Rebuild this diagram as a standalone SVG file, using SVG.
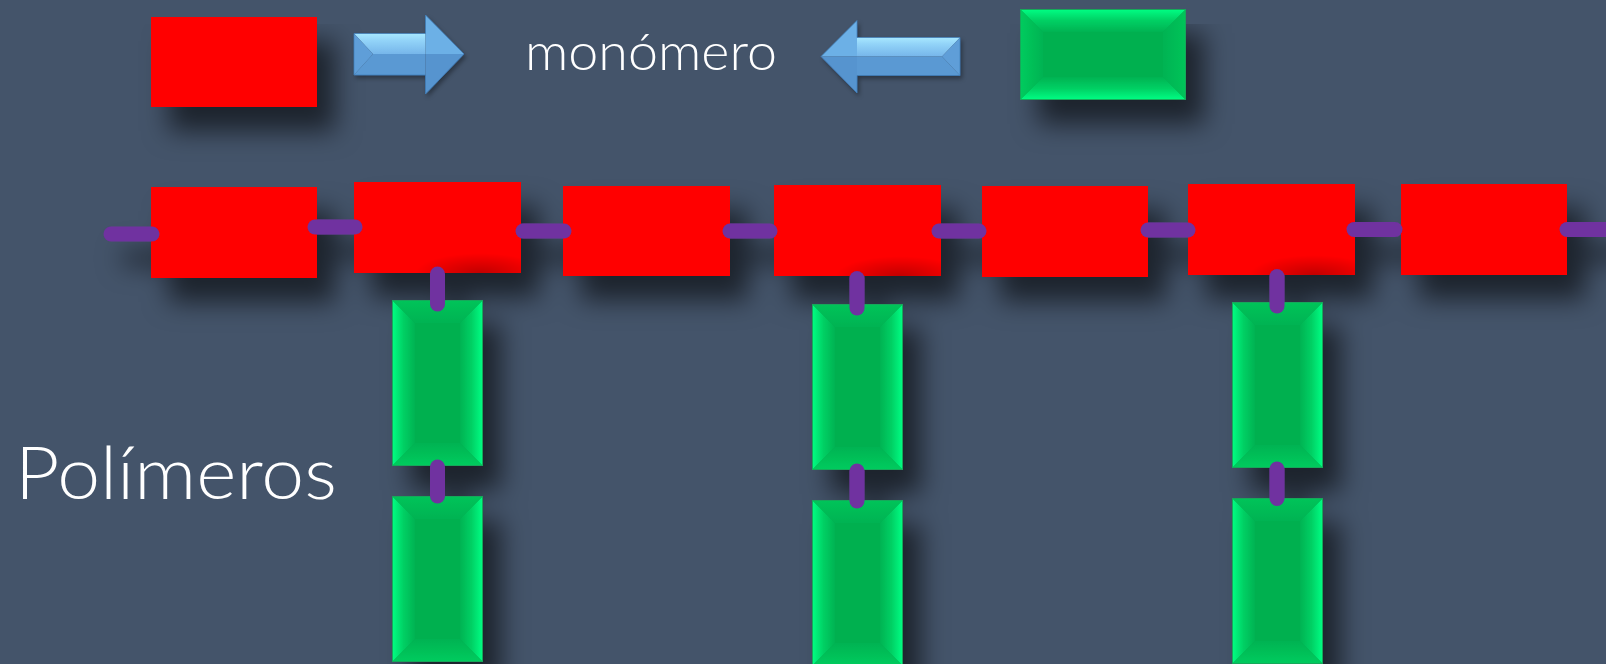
<svg xmlns="http://www.w3.org/2000/svg" xmlns:xlink="http://www.w3.org/1999/xlink" width="1606" height="664" viewBox="0 0 1606 664">
<style>
.red{fill:#FF0000}
.shade{fill:url(#redShade)}
.conn{stroke:#7030A0;stroke-width:15;stroke-linecap:round;fill:none}
.lbl{fill:#FFFFFF;font-family:Lato,"Open Sans","Liberation Sans",sans-serif;font-weight:300}
.aUp{fill:url(#arrowUp)}
.aLo{fill:#5A99D3}
.aFacet{fill:#5E9ED8}
.aHeadUp{fill:#6CB0E6}
.aHeadLo{fill:#5794CF}
.aEdge{fill:none;stroke:#3F7DBA;stroke-width:1;stroke-opacity:0.7}
</style>
<defs>
  <filter id="shadow" filterUnits="userSpaceOnUse" x="0" y="0" width="1606" height="664">
    <feGaussianBlur in="SourceAlpha" stdDeviation="13"/>
    <feOffset dx="18" dy="24" result="b"/>
    <feFlood flood-color="#000000" flood-opacity="0.58"/>
    <feComposite in2="b" operator="in"/>
    <feMerge><feMergeNode/><feMergeNode in="SourceGraphic"/></feMerge>
  </filter>
  <filter id="smallShadow" x="-20%" y="-30%" width="140%" height="170%">
    <feDropShadow dx="2" dy="3" stdDeviation="2" flood-color="#000000" flood-opacity="0.35"/>
  </filter>
  <linearGradient id="arrowUp" x1="0" y1="0" x2="0" y2="1">
    <stop offset="0" stop-color="#A8E8FF"/>
    <stop offset="0.35" stop-color="#92D3F8"/>
    <stop offset="1" stop-color="#76B6EA"/>
  </linearGradient>
  <radialGradient id="redShade" cx="0.65" cy="1" r="0.55">
    <stop offset="0" stop-color="#000000" stop-opacity="0.24"/>
    <stop offset="1" stop-color="#000000" stop-opacity="0"/>
  </radialGradient>
  <linearGradient id="gSideL" x1="0" y1="0" x2="1" y2="0">
    <stop offset="0" stop-color="#00FF84"/>
    <stop offset="0.5" stop-color="#00D064"/>
    <stop offset="1" stop-color="#00B352"/>
  </linearGradient>
  <linearGradient id="gSideR" x1="1" y1="0" x2="0" y2="0">
    <stop offset="0" stop-color="#00FF84"/>
    <stop offset="0.5" stop-color="#00D064"/>
    <stop offset="1" stop-color="#00B352"/>
  </linearGradient>
  <linearGradient id="gTop" x1="0" y1="0" x2="0" y2="1">
    <stop offset="0" stop-color="#00C45A"/>
    <stop offset="1" stop-color="#00B352"/>
  </linearGradient>
  <linearGradient id="gBot" x1="0" y1="1" x2="0" y2="0">
    <stop offset="0" stop-color="#00CC5E"/>
    <stop offset="1" stop-color="#00B352"/>
  </linearGradient>
  <g id="gblock">
    <rect x="0" y="0" width="91" height="166" fill="#00B050"/>
    <polygon points="0,0 23,23 23,143 0,166" fill="url(#gSideL)"/>
    <polygon points="91,0 68,23 68,143 91,166" fill="url(#gSideR)"/>
    <polygon points="0,0 91,0 68,23 23,23" fill="url(#gTop)"/>
    <polygon points="0,166 91,166 68,143 23,143" fill="url(#gBot)"/>
    <rect x="0.5" y="0.5" width="90" height="165" fill="none" stroke="#14A85A" stroke-width="1"/>
  </g>
</defs>

<rect x="0" y="0" width="1606" height="664" fill="#44546A"/>

<g filter="url(#shadow)">
  <g id="legend-red"><rect class="red" x="151" y="17" width="166" height="90"/></g>
  <g id="legend-green"><use xlink:href="#gblock" href="#gblock" transform="translate(1186,9) rotate(90)"/></g>

  <g id="green-1a"><use xlink:href="#gblock" href="#gblock" transform="translate(392,300)"/></g>
  <g id="green-1b"><use xlink:href="#gblock" href="#gblock" transform="translate(392,496)"/></g>
  <g id="green-2a"><use xlink:href="#gblock" href="#gblock" transform="translate(812,304)"/></g>
  <g id="green-2b"><use xlink:href="#gblock" href="#gblock" transform="translate(812,500)"/></g>
  <g id="green-3a"><use xlink:href="#gblock" href="#gblock" transform="translate(1232,302)"/></g>
  <g id="green-3b"><use xlink:href="#gblock" href="#gblock" transform="translate(1232,498)"/></g>

  <g id="red-1"><rect class="red" x="151" y="187" width="166" height="91"/></g>
  <g id="red-2"><rect class="red" x="354" y="182" width="167" height="91"/><rect class="shade" x="404" y="237" width="117" height="36"/></g>
  <g id="red-3"><rect class="red" x="563" y="186" width="167" height="90"/></g>
  <g id="red-4"><rect class="red" x="774" y="185" width="167" height="91"/><rect class="shade" x="824" y="240" width="117" height="36"/></g>
  <g id="red-5"><rect class="red" x="982" y="186" width="166" height="91"/></g>
  <g id="red-6"><rect class="red" x="1188" y="184" width="167" height="91"/><rect class="shade" x="1238" y="239" width="117" height="36"/></g>
  <g id="red-7"><rect class="red" x="1401" y="184" width="166" height="91"/></g>

  <g id="connectors">
    <line class="conn" x1="111" y1="234" x2="152" y2="234"/>
    <line class="conn" x1="315" y1="227" x2="355" y2="227"/>
    <line class="conn" x1="523" y1="231" x2="564" y2="231"/>
    <line class="conn" x1="730" y1="231" x2="770" y2="231"/>
    <line class="conn" x1="939" y1="231" x2="979" y2="231"/>
    <line class="conn" x1="1148" y1="230" x2="1188" y2="230"/>
    <line class="conn" x1="1354" y1="229.5" x2="1395" y2="229.5"/>
    <line class="conn" x1="1567" y1="229.5" x2="1625" y2="229.5"/>
    <line class="conn" x1="437.5" y1="274" x2="437.5" y2="304"/>
    <line class="conn" x1="437.5" y1="467" x2="437.5" y2="496"/>
    <line class="conn" x1="857" y1="278.5" x2="857" y2="308"/>
    <line class="conn" x1="857" y1="471" x2="857" y2="501"/>
    <line class="conn" x1="1277" y1="276.5" x2="1277" y2="306"/>
    <line class="conn" x1="1277" y1="469" x2="1277" y2="498.5"/>
  </g>
</g>

<g id="arrow-right" filter="url(#smallShadow)">
  <polygon class="aUp" points="354,33.5 425.5,33.5 425.5,54 373,54"/>
  <polygon class="aLo" points="373,54 425.5,54 425.5,75 354,75"/>
  <polygon class="aFacet" points="354,33.5 373,54 354,75"/>
  <polygon class="aHeadUp" points="425.5,15 464,54 425.5,54"/>
  <polygon class="aHeadLo" points="425.5,54 464,54 425.5,94"/>
  <path class="aEdge" d="M354,33.5 H425.5 V15 L464,54 L425.5,94 V75 H354 Z"/>
</g>

<g id="arrow-left" filter="url(#smallShadow)">
  <polygon class="aUp" points="857,37.5 960,37.5 942,56.5 857,56.5"/>
  <polygon class="aLo" points="857,56.5 942,56.5 960,75.5 857,75.5"/>
  <polygon class="aFacet" points="960,37.5 942,56.5 960,75.5"/>
  <polygon class="aHeadUp" points="857,20.5 821,56.5 857,56.5"/>
  <polygon class="aHeadLo" points="857,56.5 821,56.5 857,93"/>
  <path class="aEdge" d="M821,56.5 L857,20.5 V37.5 H960 V75.5 H857 V93 Z"/>
</g>

<text class="lbl" x="525" y="70" font-size="52" textLength="252" lengthAdjust="spacingAndGlyphs">monómero</text>
<text class="lbl" x="15" y="499" font-size="73" textLength="322" lengthAdjust="spacingAndGlyphs">Polímeros</text>
</svg>
